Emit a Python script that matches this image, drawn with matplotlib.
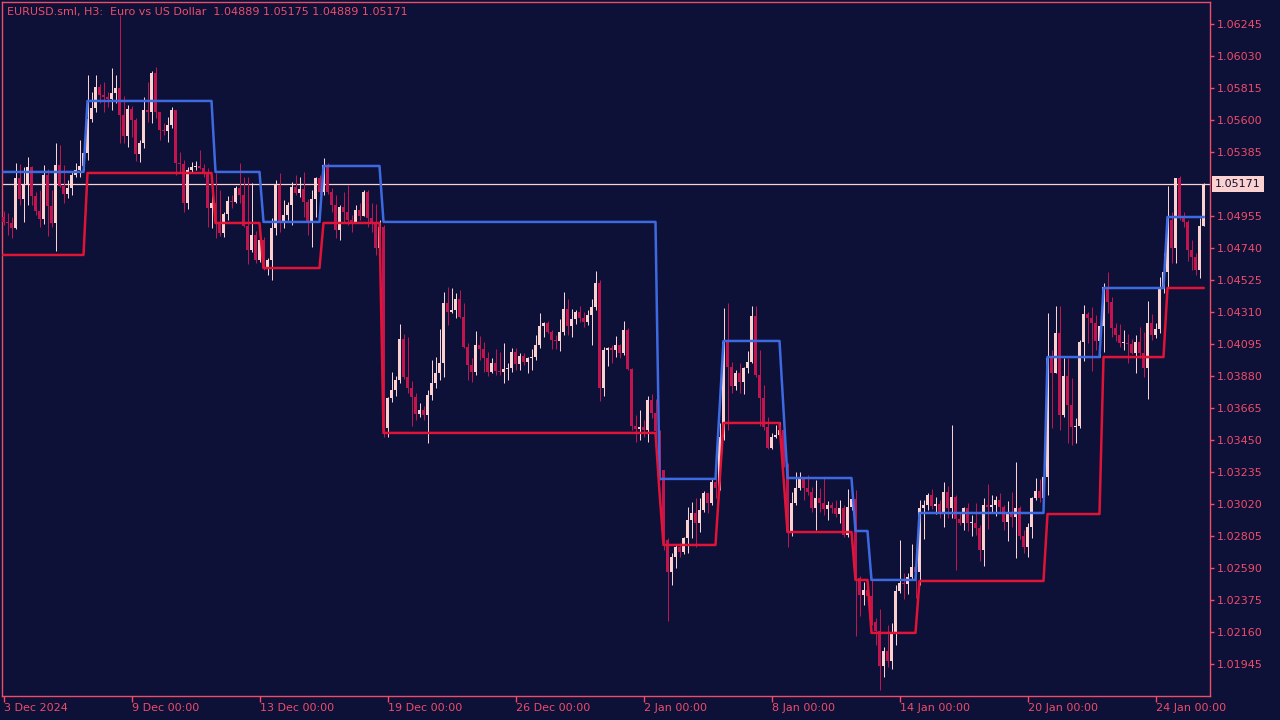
import numpy as np
import matplotlib
matplotlib.use("Agg")
from matplotlib import pyplot as plt
import matplotlib.transforms as mtransforms

# EURUSD H3 quotes, in points above 1.00000 (1.04889 -> 4889)
first_open = 4949
closes = [
    4916, 4909, 4875, 5211, 5070, 5164, 5285, 5090, 4990, 4936,
    5232, 5023, 4909, 5299, 5158, 5104, 5144, 5232, 5265, 5292,
    5379, 5608, 5682, 5823, 5769, 5756, 5742, 5783, 5816, 5635,
    5494, 5675, 5601, 5373, 5447, 5668, 5655, 5917, 5655, 5534,
    5527, 5568, 5668, 5312, 5305, 5043, 5265, 5285, 5292, 5279,
    5252, 5010, 5043, 4916, 4842, 4969, 5057, 5050, 5144, 5097,
    4889, 4728, 4828, 4660, 4795, 4607, 4660, 4875, 5164, 4909,
    4963, 5030, 5151, 5111, 5137, 5050, 4916, 5070, 5211, 5117,
    5299, 5117, 5030, 4862, 5017, 4983, 4929, 4916, 4996, 4956,
    5117, 4943, 4916, 4741, 4882, 3531, 3733, 3787, 3854, 4129,
    3874, 3800, 3740, 3625, 3652, 3619, 3753, 3834, 3901, 3968,
    4371, 4311, 4324, 4398, 4277, 4076, 3955, 3908, 4089, 4062,
    4002, 3908, 3968, 3914, 3908, 3928, 3935, 4042, 3961, 4015,
    3975, 4002, 4009, 4089, 4217, 4237, 4176, 4123, 4116, 4176,
    4331, 4217, 4264, 4311, 4271, 4244, 4291, 4344, 4506, 3800,
    4056, 4069, 4056, 4089, 4035, 4190, 3928, 3545, 3525, 3538,
    3518, 3720, 3632, 3511, 3249, 2779, 2564, 2664, 2732, 2698,
    2792, 2913, 2960, 2893, 2980, 3094, 3027, 3168, 3128, 3471,
    4109, 3941, 3814, 3901, 3840, 3935, 3975, 4284, 3888, 3733,
    3538, 3397, 3471, 3484, 3518, 3283, 2832, 3027, 3128, 3189,
    3128, 3101, 2994, 3061, 3027, 2987, 3014, 2994, 2953, 2994,
    2812, 3000, 3054, 2523, 2409, 2443, 2402, 2228, 2167, 1932,
    2033, 1966, 2154, 2436, 2490, 2483, 2530, 2597, 2564, 2994,
    3014, 3081, 3007, 3021, 2960, 3101, 2994, 3068, 2920, 2893,
    2994, 2893, 2893, 2860, 2711, 3014, 3000, 3014, 3047, 3000,
    2900, 2967, 2933, 2994, 2806, 2732, 2866, 3061, 3108, 3061,
    3202, 4002, 3901, 4170, 3619, 3881, 3686, 3538, 3545, 4109,
    4297, 4271, 4237, 4116, 4217, 4479, 4378, 4203, 4156, 4103,
    4103, 4096, 4035, 4109, 4035, 3935, 4237, 4156, 4197, 4472,
    4580, 4929, 4741, 5211, 4943, 4916, 4727, 4680, 4593, 4889,
    5171]
highs = [
    4990, 4976, 4949, 5312, 5305, 5285, 5352, 5292, 5117, 5131,
    5299, 5272, 5131, 5447, 5433, 5299, 5198, 5252, 5312, 5467,
    5467, 5904, 5789, 5904, 5840, 5857, 5789, 5951, 5904, 6307,
    5762, 5702, 5695, 5615, 5467, 5756, 5857, 5930, 5957, 5655,
    5581, 5621, 5689, 5668, 5386, 5332, 5285, 5319, 5326, 5400,
    5305, 5279, 5164, 5245, 5131, 4983, 5090, 5097, 5158, 5312,
    5218, 5218, 5178, 4855, 4822, 4815, 4674, 4943, 5198, 5245,
    5064, 5050, 5184, 5232, 5218, 5252, 5070, 5131, 5218, 5232,
    5346, 5312, 5144, 5097, 5030, 5117, 5164, 4963, 5030, 5043,
    5131, 5131, 5043, 5037, 4929, 4896, 3740, 3908, 3881, 4230,
    4163, 4143, 3847, 3767, 3699, 3679, 3787, 3988, 4009, 4197,
    4445, 4479, 4472, 4439, 4459, 4371, 4103, 4002, 4183, 4150,
    4109, 4042, 4002, 4062, 4042, 4103, 3968, 4069, 4069, 4035,
    4035, 4009, 4062, 4156, 4304, 4244, 4250, 4190, 4156, 4264,
    4445, 4398, 4331, 4324, 4351, 4311, 4324, 4398, 4586, 4526,
    4076, 4076, 4089, 4150, 4096, 4250, 4203, 3935, 3619, 3652,
    3585, 3746, 3760, 3726, 3518, 3249, 2790, 2691, 2745, 2759,
    2799, 3000, 3034, 3061, 3061, 3108, 3094, 3195, 3202, 3565,
    4338, 4371, 3975, 3921, 3968, 3941, 4049, 4351, 4351, 4055,
    3820, 3605, 3498, 3551, 3572, 3551, 3296, 3101, 3236, 3236,
    3202, 3215, 3135, 3182, 3128, 3195, 3041, 3034, 3047, 3047,
    3014, 3121, 3121, 3115, 2537, 2496, 2476, 2510, 2254, 2315,
    2060, 2207, 2221, 2476, 2779, 2557, 2557, 2752, 2631, 3047,
    3047, 3094, 3121, 3068, 3047, 3168, 3141, 3551, 3081, 2967,
    3000, 3027, 2947, 3027, 2880, 3061, 3155, 3081, 3074, 3094,
    3014, 3041, 3101, 3303, 3007, 2846, 2893, 3068, 3195, 3189,
    3249, 4304, 4055, 4351, 4351, 4002, 4002, 3867, 3599, 4123,
    4358, 4311, 4344, 4291, 4224, 4506, 4580, 4411, 4237, 4230,
    4190, 4163, 4129, 4156, 4210, 4176, 4385, 4297, 4237, 4546,
    4707, 5158, 4983, 5211, 5225, 4983, 4930, 4795, 4707, 4943,
    5175]
lows = [
    4896, 4828, 4808, 4869, 5030, 4916, 5030, 5030, 4963, 4882,
    4902, 4822, 4882, 4721, 5151, 5043, 5077, 5097, 5218, 5218,
    5265, 5332, 5588, 5655, 5715, 5655, 5689, 5668, 5715, 5447,
    5447, 5420, 5487, 5326, 5319, 5413, 5588, 5581, 5615, 5467,
    5500, 5453, 5547, 5232, 5245, 4983, 5003, 5245, 5265, 5272,
    5218, 4882, 4875, 4808, 4822, 4815, 4929, 5010, 5043, 5043,
    4882, 4633, 4714, 4640, 4647, 4593, 4560, 4526, 4828, 4848,
    4875, 4929, 4896, 5097, 5084, 4949, 4828, 4748, 4949, 5097,
    5097, 5104, 4983, 4808, 4795, 4909, 4896, 4848, 4909, 4929,
    4956, 4882, 4848, 4694, 4728, 3471, 3471, 3706, 3746, 3834,
    3860, 3767, 3545, 3585, 3605, 3585, 3431, 3720, 3800, 3854,
    3874, 4224, 4304, 4271, 4270, 4069, 3854, 3841, 3888, 3988,
    3908, 3881, 3901, 3888, 3888, 3834, 3854, 3908, 3921, 3921,
    3955, 3901, 3921, 3988, 4069, 4143, 4170, 4062, 4062, 4049,
    4156, 4156, 4143, 4230, 4244, 4210, 4224, 4089, 4324, 3713,
    3746, 3948, 3968, 4009, 4002, 4022, 3921, 3518, 3437, 3451,
    3471, 3437, 3599, 3484, 3182, 2712, 2234, 2476, 2591, 2664,
    2685, 2691, 2792, 2732, 2832, 2967, 2960, 3014, 3061, 3115,
    3451, 3518, 3767, 3787, 3767, 3760, 3901, 3968, 3874, 3545,
    3518, 3390, 3390, 3464, 3431, 3269, 2732, 2806, 3014, 3115,
    3047, 3081, 2967, 2846, 2967, 2946, 2913, 2960, 2933, 2893,
    2799, 2799, 2980, 2134, 2268, 2342, 2362, 2207, 2073, 1771,
    1858, 1925, 1912, 2073, 2423, 2382, 2416, 2510, 2389, 2476,
    2785, 2980, 2987, 2953, 2927, 2866, 2927, 2927, 2577, 2880,
    2846, 2839, 2806, 2812, 2637, 2604, 2853, 2967, 2940, 2967,
    2846, 2772, 2866, 2657, 2785, 2691, 2664, 2792, 3047, 3034,
    3034, 3081, 3531, 3901, 3518, 3605, 3431, 3417, 3431, 3531,
    3981, 4103, 3914, 4055, 4009, 4042, 4304, 4143, 4116, 4076,
    4055, 3968, 4029, 3901, 4002, 3874, 3726, 4123, 4136, 4170,
    4439, 4479, 4640, 4640, 4929, 4882, 4653, 4593, 4560, 4539,
    4889]

# channel levels (same units) and how many bars each level lasts
upper_levels = [5252, 5729, 5252, 4916, 5292, 4916, 3189, 3650, 4116, 3650,
                3195, 2839, 2510, 2960, 4008, 4472, 4949]
upper_runs = [21, 32, 12, 15, 15, 69, 15, 1, 15, 1, 17, 4, 12, 32, 14, 16, 10]
lower_levels = [4694, 5245, 4909, 4606, 4909, 3498, 3100, 2745, 3150, 3565,
                3200, 2832, 2510, 2154, 2503, 2953, 4008, 4472]
lower_runs = [21, 32, 12, 15, 15, 69, 1, 14, 1, 15, 1, 17, 4, 12, 32, 14, 16, 10]

y_ticks = [1.06245, 1.06030, 1.05815, 1.05600, 1.05385, 1.04955, 1.04740,
           1.04525, 1.04310, 1.04095, 1.03880, 1.03665, 1.03450, 1.03235,
           1.03020, 1.02805, 1.02590, 1.02375, 1.02160, 1.01945]
x_tick_bars = [0, 32, 64, 96, 128, 160, 192, 224, 256, 288]
x_tick_labels = ["3 Dec 2024", "9 Dec 00:00", "13 Dec 00:00", "19 Dec 00:00",
                 "26 Dec 00:00", "2 Jan 00:00", "8 Jan 00:00", "14 Jan 00:00",
                 "20 Jan 00:00", "24 Jan 00:00"]

BG = "#0d1037"
FG = "#ee4d6a"
BULL = "#fbd2cf"
BEAR = "#c2144f"
BLUE = "#3d6ae0"
RED = "#e01437"


def to_price(points):
    return 1.0 + np.asarray(points, dtype=float) / 100000.0


c = to_price(closes)
h = to_price(highs)
l = to_price(lows)
o = to_price([first_open] + closes[:-1])
upper = to_price(np.repeat(upper_levels, upper_runs))
lower = to_price(np.repeat(lower_levels, lower_runs))
x = np.arange(len(c))

fig = plt.figure(figsize=(12.8, 7.2), dpi=100, facecolor=BG)
ax = fig.add_axes([2 / 1280, 24 / 720, 1208 / 1280, 694 / 720])
ax.set_facecolor(BG)
for s in ax.spines.values():
    s.set_color(FG)
    s.set_linewidth(1.0)

# bid line behind the candles
bid = c[-1]
ax.axhline(bid, color=BULL, lw=0.9, zorder=1)

# candles: 4 px per bar, limits chosen so wicks sit on pixel centres
cols = np.where(c >= o, BULL, BEAR)
ax.vlines(x, l, h, colors=cols, lw=0.72, zorder=2)
body = np.maximum(np.abs(c - o), 0.00005)
ax.bar(x, body, bottom=np.minimum(o, c), width=0.75, color=cols,
       linewidth=0, zorder=3, antialiased=False)

# channel
ax.plot(x, upper, color=BLUE, lw=1.8, zorder=4)
ax.plot(x, lower, color=RED, lw=1.8, zorder=4)

ax.set_xlim(-0.375, len(c) + 0.625)
ax.set_ylim(1.01730, 1.06394)

ax.yaxis.tick_right()
ax.set_yticks(y_ticks)
ax.set_yticklabels(["%.5f" % v for v in y_ticks])
ax.tick_params(axis="y", colors=FG, length=3, width=1, pad=2, labelsize=8)

ax.set_xticks(x_tick_bars)
ax.set_xticklabels(x_tick_labels)
ax.tick_params(axis="x", colors=FG, length=4, width=1, pad=1, labelsize=8)
for t in ax.get_xticklabels():
    t.set_horizontalalignment("left")

# bid price label on the scale
trans = mtransforms.blended_transform_factory(ax.transAxes, ax.transData)
ax.text(1.0 + 5 / 1208, bid, "%.5f" % bid, transform=trans, ha="left",
        va="center", color=BG, fontsize=8, zorder=10, clip_on=False,
        bbox=dict(boxstyle="square,pad=0.3", fc=BULL, ec="none"))

title = "EURUSD.sml, H3:  Euro vs US Dollar  %.5f %.5f %.5f %.5f" % (
    o[-1], h[-1], l[-1], c[-1])
fig.text(7 / 1280, 1 - 12 / 720, title, color=FG, fontsize=8,
         ha="left", va="center")

fig.savefig("out.png", dpi=100, facecolor=BG)
